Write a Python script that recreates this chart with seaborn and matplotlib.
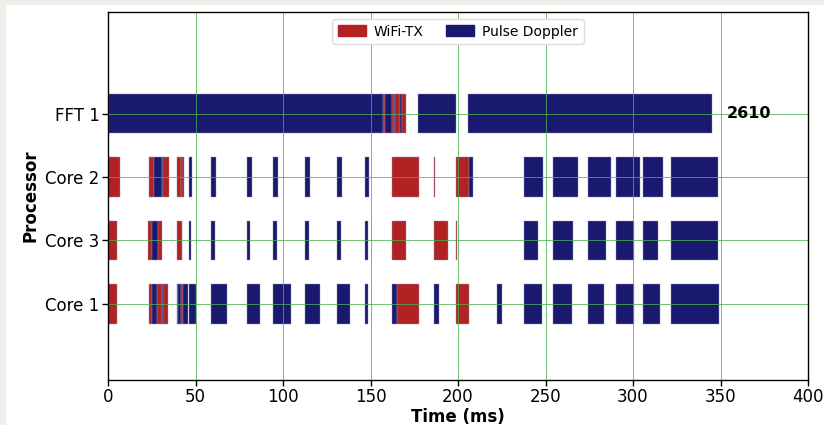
import matplotlib
matplotlib.use("Agg")
import matplotlib.pyplot as plt
import matplotlib.patches as mpatches
import seaborn as sns
import pandas as pd

# ---- data (ms) ----
processors = ["Core 1", "Core 3", "Core 2", "FFT 1"]
apps = ["WiFi-TX", "Pulse Doppler"]
app_colors = ["#b22222", "#191970"]

fft1_start = [0.7, 157.3, 158.5, 162.1, 163.2, 164.0, 166.9, 167.8, 177.3, 205.5]
fft1_end   = [157.3, 158.5, 162.1, 163.2, 164.0, 166.9, 167.8, 170.3, 198.9, 345.3]
fft1_app   = ["P", "W", "P", "W", "P", "W", "P", "W", "P", "P"]

core2_start = [0, 23.3, 26.0, 30.7, 31.5, 39.2, 41.5, 42.3, 46.5, 58.9, 79.2, 94.5, 112.6, 130.7,
               146.9, 162.1, 186.5, 198.9, 206.3, 237.7, 254.1, 274.1, 290.1, 305.5, 321.7]
core2_end   = [6.8, 26.0, 30.7, 31.5, 34.8, 41.5, 42.3, 43.4, 47.8, 61.5, 82.1, 97.0, 115.4, 133.5,
               149.1, 177.7, 187.0, 206.3, 208.5, 248.8, 268.7, 287.4, 304.0, 317.3, 348.4]
core2_app   = ["W", "W", "P", "P", "W", "W", "P", "W", "P", "P", "P", "P", "P", "P",
               "P", "W", "W", "W", "P", "P", "P", "P", "P", "P", "P"]

core3_start = [0, 23.0, 25.0, 28.7, 39.2, 42.0, 46.5, 59.0, 79.2, 94.5, 112.6, 130.7, 146.9,
               162.1, 186.5, 198.9, 237.9, 254.1, 274.1, 290.1, 305.5, 321.7]
core3_end   = [5.0, 25.0, 28.7, 31.0, 42.0, 42.4, 47.2, 61.0, 80.9, 96.4, 115.0, 133.0, 148.4,
               170.1, 194.5, 199.3, 245.9, 265.5, 284.4, 300.6, 314.1, 348.4]
core3_app   = ["W", "W", "P", "W", "W", "P", "P", "P", "P", "P", "P", "P", "P",
               "W", "W", "W", "P", "P", "P", "P", "P", "P"]

core1_start = [0, 23.2, 25.0, 28.2, 30.7, 31.6, 39.2, 40.2, 41.9, 42.7, 46.5, 58.9, 79.2, 94.5,
               112.6, 130.7, 146.9, 162.5, 164.9, 186.5, 198.9, 222.5, 237.9, 254.1, 274.1,
               290.1, 305.5, 321.7]
core1_end   = [5.0, 25.0, 28.2, 30.7, 31.6, 34.1, 40.2, 41.9, 42.7, 45.9, 50.1, 68.1, 87.0, 104.4,
               121.1, 138.5, 148.4, 164.9, 177.7, 189.3, 206.1, 224.9, 247.8, 265.3, 283.6,
               300.6, 315.4, 349.3]
core1_app   = ["W", "W", "P", "W", "P", "W", "W", "P", "W", "P", "P", "P", "P", "P",
               "P", "P", "P", "P", "W", "P", "W", "P", "P", "P", "P",
               "P", "P", "P"]

annotation_text = "2610"
annotation_x = 353.5

x_ticks = [0, 50, 100, 150, 200, 250, 300, 350, 400]

# ---- build table ----
rows = []
for proc, st, en, ap in [("FFT 1", fft1_start, fft1_end, fft1_app),
                         ("Core 2", core2_start, core2_end, core2_app),
                         ("Core 3", core3_start, core3_end, core3_app),
                         ("Core 1", core1_start, core1_end, core1_app)]:
    for s, e, a in zip(st, en, ap):
        rows.append({"proc": proc, "start": s, "dur": e - s,
                     "app": apps[0] if a == "W" else apps[1]})
df = pd.DataFrame(rows)
df["y"] = df["proc"].map({p: i for i, p in enumerate(processors)})
cmap = dict(zip(apps, app_colors))

sns.set_theme(style="white")
plt.rcParams['font.family'] = ['DejaVu Sans']
plt.rcParams['text.color'] = 'black'
plt.rcParams['axes.labelcolor'] = 'black'
plt.rcParams['xtick.color'] = 'black'
plt.rcParams['ytick.color'] = 'black'

fig = plt.figure(figsize=(8.24, 4.25), dpi=100)
fig.patch.set_facecolor("white")
# light grey screenshot frame
fig.patches.append(mpatches.Rectangle((0, 0), 5 / 824, 1, transform=fig.transFigure,
                                      color="#efefea", zorder=0))
fig.patches.append(mpatches.Rectangle((0, 1 - 4 / 425), 1, 4 / 425, transform=fig.transFigure,
                                      color="#efefea", zorder=0))
ax = fig.add_axes([108 / 824, 1 - 380 / 425, 700 / 824, 368 / 425])

ax.barh(df["y"], df["dur"], left=df["start"], height=0.62,
        color=df["app"].map(cmap), edgecolor="#8f8fb0", linewidth=0.3, zorder=1)

ax.text(annotation_x, processors.index("FFT 1"), annotation_text, fontsize=11.5,
        fontweight="bold", va="center", ha="left", color="black", zorder=3)

ax.set_xlim(0, 400)
ax.set_ylim(-1.2, 4.6)
ax.set_xticks(x_ticks)
ax.set_yticks(range(len(processors)))
ax.set_yticklabels(processors)
ax.tick_params(axis="both", labelsize=12, length=4, width=1, colors="black",
               left=True, bottom=True, pad=2)
ax.grid(True, color="#4caf50", linewidth=0.7, alpha=0.8, zorder=2)
ax.set_axisbelow(False)
for sp in ax.spines.values():
    sp.set_color("black")
    sp.set_linewidth(1.0)
    sp.set_zorder(5)

ax.set_xlabel("Time (ms)", fontsize=12, fontweight="bold", labelpad=1, color="black")
ax.set_ylabel("Processor", fontsize=12, fontweight="bold", labelpad=4, color="black")

handles = [mpatches.Patch(color=c, label=a) for a, c in zip(apps, app_colors)]
leg = ax.legend(handles=handles, loc="upper center", ncol=2, fontsize=10, frameon=True,
                bbox_to_anchor=(0.5, 1.0), borderaxespad=0.5, columnspacing=1.6,
                handlelength=2.0, handleheight=0.85, handletextpad=0.6,
                framealpha=1, edgecolor="#dddddd")
for t in leg.get_texts():
    t.set_color("black")

fig.savefig("out.png", dpi=100)
